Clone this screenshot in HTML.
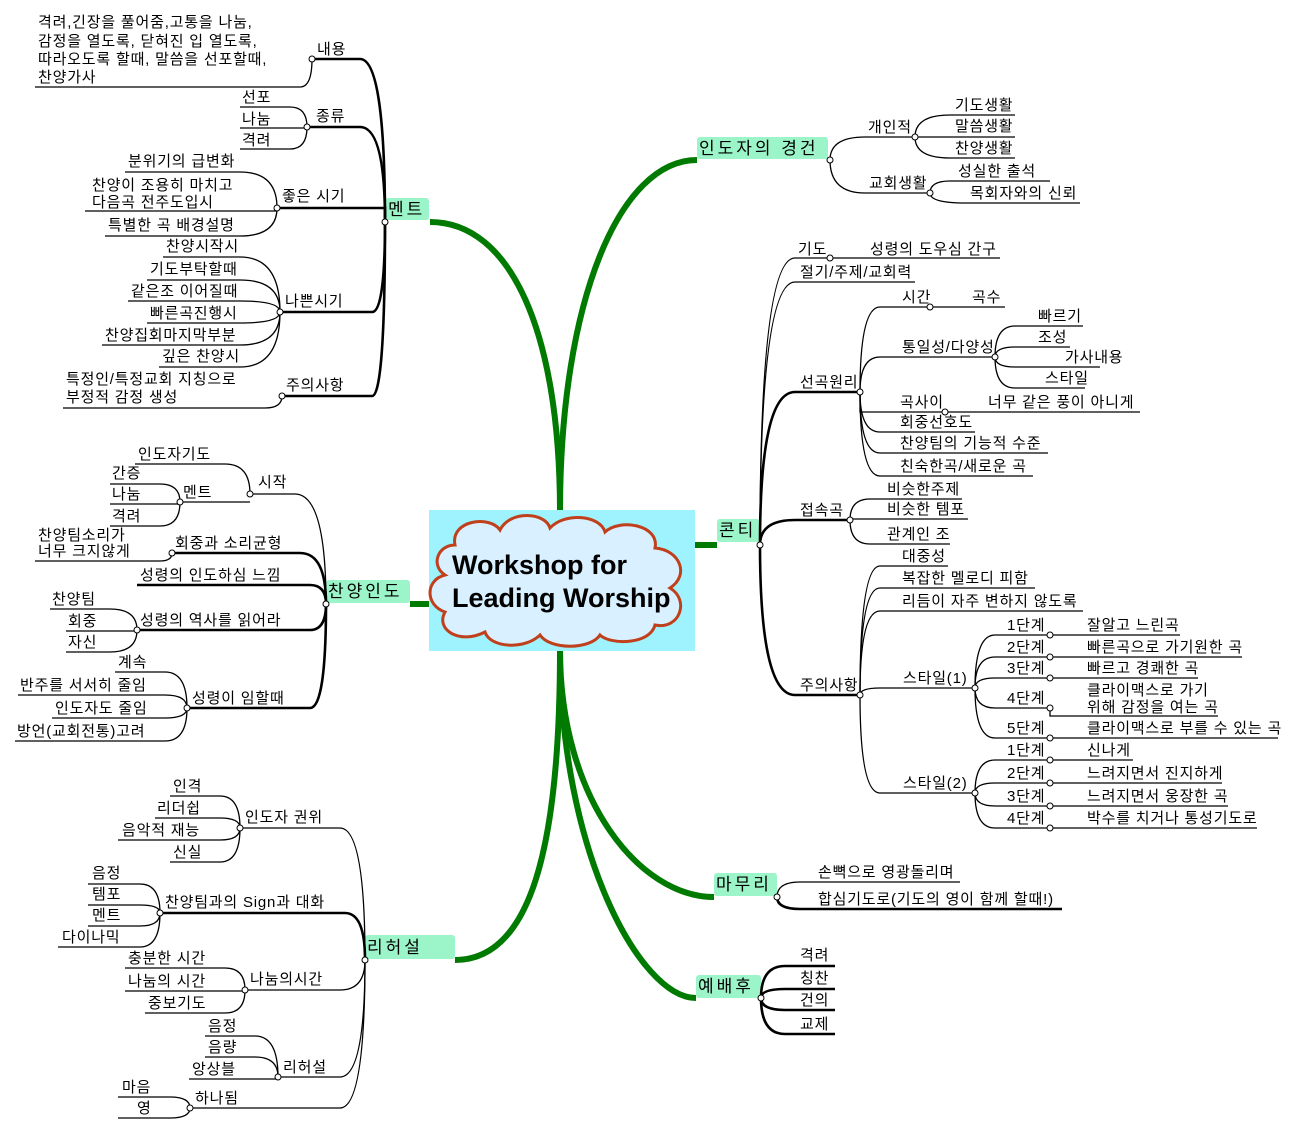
<!DOCTYPE html>
<html><head><meta charset="utf-8"><style>
html,body{margin:0;padding:0;background:#fff;}
svg text{font-family:"Liberation Sans","Noto Sans CJK KR","NanumGothic",sans-serif;font-size:15px;letter-spacing:0.8px;fill:#000;}
.l{fill:none;stroke:#000;stroke-width:1.3;}
.k{fill:none;stroke:#000;stroke-width:2.6;}
.g{fill:none;stroke:#007a00;stroke-width:6;}
.lb{fill:#9cf5c8;}
svg text.tl{font-size:17px;letter-spacing:3px;}
</style></head><body>
<svg width="1300" height="1131" viewBox="0 0 1300 1131" xmlns="http://www.w3.org/2000/svg">
<path class="g" d="M560,512 C560,330 510,222 430,222"/>
<path class="g" d="M429,604 H410"/>
<path class="g" d="M560,650 C560,850 530,960 455,960"/>
<path class="g" d="M560,512 C560,300 620,160 697,160"/>
<path class="g" d="M695,545 H717"/>
<path class="g" d="M560,650 C560,800 640,897 714,897"/>
<path class="g" d="M560,650 C560,850 640,998 696,998"/>

<rect x="429" y="510" width="266" height="141" fill="#9ff3ff"/>
<path d="M455,545 C450,520 490,515 500,530 C510,510 545,512 550,528 C565,512 600,515 605,532 C620,518 660,525 655,548 C680,550 690,575 670,588 C690,600 680,630 655,625 C650,645 610,645 600,635 C590,650 550,650 540,635 C525,650 490,648 485,632 C460,645 435,630 445,612 C425,605 425,580 445,575 C430,565 438,545 455,545 Z" fill="#d8f0ff" stroke="#c0401c" stroke-width="3"/>
<text x="452" y="574" style="font-size:27px;font-weight:bold;letter-spacing:0">Workshop for</text>
<text x="452" y="607" style="font-size:27px;font-weight:bold;letter-spacing:0">Leading Worship</text>

<rect class="lb" x="385" y="198" width="44" height="22" rx="3"/><text class="tl" x="388" y="215">멘트</text>
<rect class="lb" x="326" y="580" width="84" height="23" rx="3"/><text class="tl" x="328" y="597">찬양인도</text>
<rect class="lb" x="365" y="935" width="90" height="24" rx="3"/><text class="tl" x="367" y="953">리허설</text>
<rect class="lb" x="697" y="137" width="131" height="22" rx="3"/><text class="tl" x="699" y="154">인도자의 경건</text>
<rect class="lb" x="717" y="519" width="43" height="23" rx="3"/><text class="tl" x="719" y="536">콘티</text>
<rect class="lb" x="714" y="873" width="63" height="23" rx="3"/><text class="tl" x="716" y="890">마무리</text>
<rect class="lb" x="696" y="975" width="65" height="23" rx="3"/><text class="tl" x="698" y="992">예배후</text>

<path class="k" d="M310,59 H360 Q385,59 385,222"/>
<text x="317" y="54">내용</text>
<path class="l" d="M35,87 H300 Q312,87 312,59"/>
<text x="38" y="27">격려,긴장을 풀어줌,고통을 나눔,</text>
<text x="38" y="46">감정을 열도록, 닫혀진 입 열도록,</text>
<text x="38" y="64">따라오도록 할때, 말씀을 선포할때,</text>
<text x="38" y="82">찬양가사</text>
<path class="k" d="M305,127 H360 Q385,127 385,222"/>
<text x="316" y="121">종류</text>
<path class="l" d="M240,107 H290 Q307,107 307,127"/><text x="242" y="102">선포</text>
<path class="l" d="M240,128 H307"/><text x="242" y="124">나눔</text>
<path class="l" d="M240,149 H290 Q307,149 307,127"/><text x="242" y="145">격려</text>
<path class="k" d="M275,208 H385 Q385,208 385,222"/>
<text x="282" y="201">좋은 시기</text>
<path class="l" d="M125,172 H240 Q277,172 277,208"/><text x="128" y="166">분위기의 급변화</text>
<path class="l" d="M85,211 H277"/><text x="92" y="190">찬양이 조용히 마치고</text><text x="92" y="207">다음곡 전주도입시</text>
<path class="l" d="M105,236 H240 Q277,236 277,208"/><text x="108" y="230">특별한 곡 배경설명</text>
<path class="k" d="M278,312 H372 Q385,312 385,222"/>
<text x="285" y="306">나쁜시기</text>
<path class="l" d="M163,257 H240 Q280,257 280,312"/><text x="166" y="251">찬양시작시</text>
<path class="l" d="M147,280 H240 Q280,280 280,312"/><text x="150" y="274">기도부탁할때</text>
<path class="l" d="M128,301 H240 Q280,301 280,312"/><text x="131" y="296">같은조 이어질때</text>
<path class="l" d="M147,323 H240 Q280,323 280,312"/><text x="150" y="318">빠른곡진행시</text>
<path class="l" d="M102,345 H240 Q280,345 280,312"/><text x="105" y="340">찬양집회마지막부분</text>
<path class="l" d="M159,367 H240 Q280,367 280,312"/><text x="162" y="361">깊은 찬양시</text>
<path class="k" d="M280,396 H372 Q385,396 385,222"/>
<text x="286" y="390">주의사항</text>
<path class="l" d="M63,408 H265 Q282,408 282,396"/><text x="66" y="384">특정인/특정교회 지칭으로</text><text x="66" y="402">부정적 감정 생성</text>

<path class="l" d="M250,494 H295 Q326,494 326,604"/><text x="258" y="487">시작</text>
<path class="l" d="M135,464 H225 Q250,464 250,494"/><text x="138" y="459">인도자기도</text>
<path class="l" d="M180,502 H250"/><text x="183" y="497">멘트</text>
<path class="l" d="M110,484 H160 Q180,484 180,502"/><text x="112" y="478">간증</text>
<path class="l" d="M110,504 H180"/><text x="112" y="499">나눔</text>
<path class="l" d="M110,526 H160 Q180,526 180,502"/><text x="112" y="521">격려</text>
<path class="k" d="M170,553 H300 Q326,553 326,604"/><text x="175" y="548">회중과 소리균형</text>
<path class="l" d="M35,561 H160 Q172,561 172,553"/><text x="38" y="540">찬양팀소리가</text><text x="38" y="556">너무 크지않게</text>
<path class="k" d="M137,585 H310 Q326,585 326,604"/><text x="140" y="580">성령의 인도하심 느낌</text>
<path class="k" d="M137,630 H310 Q326,630 326,604"/><text x="140" y="625">성령의 역사를 읽어라</text>
<path class="l" d="M50,609 H110 Q137,609 137,630"/><text x="52" y="604">찬양팀</text>
<path class="l" d="M66,631 H137"/><text x="68" y="626">회중</text>
<path class="l" d="M66,652 H110 Q137,652 137,630"/><text x="68" y="647">자신</text>
<path class="k" d="M187,708 H310 Q326,708 326,604"/><text x="192" y="703">성령이 임할때</text>
<path class="l" d="M115,672 H165 Q187,672 187,708"/><text x="118" y="667">계속</text>
<path class="l" d="M18,695 H165 Q187,695 187,708"/><text x="20" y="690">반주를 서서히 줄임</text>
<path class="l" d="M52,718 H165 Q187,718 187,708"/><text x="55" y="713">인도자도 줄임</text>
<path class="l" d="M15,741 H165 Q187,741 187,708"/><text x="17" y="736">방언(교회전통)고려</text>

<path class="l" d="M240,828 H340 Q365,828 365,960"/><text x="245" y="822">인도자 권위</text>
<path class="l" d="M170,796 H220 Q240,796 240,828"/><text x="173" y="791">인격</text>
<path class="l" d="M155,818 H220 Q240,818 240,828"/><text x="157" y="813">리더쉽</text>
<path class="l" d="M118,840 H220 Q240,840 240,828"/><text x="122" y="835">음악적 재능</text>
<path class="l" d="M170,862 H220 Q240,862 240,828"/><text x="173" y="857">신실</text>
<path class="k" d="M160,913 H345 Q365,913 365,960"/><text x="165" y="907">찬양팀과의 Sign과 대화</text>
<path class="l" d="M88,884 H140 Q160,884 160,913"/><text x="92" y="878">음정</text>
<path class="l" d="M88,905 H140 Q160,905 160,913"/><text x="92" y="899">템포</text>
<path class="l" d="M88,926 H140 Q160,926 160,913"/><text x="92" y="920">멘트</text>
<path class="l" d="M58,947 H140 Q160,947 160,913"/><text x="62" y="942">다이나믹</text>
<path class="l" d="M245,990 H340 Q365,990 365,960"/><text x="250" y="984">나눔의시간</text>
<path class="l" d="M125,968 H225 Q245,968 245,990"/><text x="128" y="963">충분한 시간</text>
<path class="l" d="M125,991 H245"/><text x="128" y="986">나눔의 시간</text>
<path class="l" d="M145,1013 H225 Q245,1013 245,990"/><text x="148" y="1008">중보기도</text>
<path class="l" d="M278,1077 H340 Q365,1077 365,960"/><text x="283" y="1072">리허설</text>
<path class="l" d="M205,1036 H255 Q278,1036 278,1077"/><text x="208" y="1031">음정</text>
<path class="l" d="M205,1057 H255 Q278,1057 278,1077"/><text x="208" y="1052">음량</text>
<path class="l" d="M189,1079 H278"/><text x="192" y="1074">앙상블</text>
<path class="l" d="M190,1108 H340 Q365,1108 365,960"/><text x="195" y="1103">하나됨</text>
<path class="l" d="M118,1097 H170 Q190,1097 190,1108"/><text x="122" y="1092">마음</text>
<path class="l" d="M118,1118 H170 Q190,1118 190,1108"/><text x="137" y="1113">영</text>

<path class="l" d="M915,137 H865 Q830,137 830,160"/><text x="868" y="132">개인적</text>
<path class="l" d="M1015,115 H950 Q915,115 915,137"/><text x="955" y="110">기도생활</text>
<path class="l" d="M1015,137 H915"/><text x="955" y="131">말씀생활</text>
<path class="l" d="M1015,158 H950 Q915,158 915,137"/><text x="955" y="153">찬양생활</text>
<path class="l" d="M930,193 H865 Q830,193 830,160"/><text x="869" y="188">교회생활</text>
<path class="l" d="M1050,181 H950 Q930,181 930,193"/><text x="958" y="176">성실한 출석</text>
<path class="l" d="M1080,203 H965 Q930,203 930,193"/><text x="970" y="198">목회자와의 신뢰</text>

<path class="l" d="M1000,258 H795 Q760,258 760,545"/><text x="798" y="254">기도</text><text x="870" y="254">성령의 도우심 간구</text>
<path class="l" d="M915,282 H795 Q760,282 760,545"/><text x="800" y="277">절기/주제/교회력</text>
<path class="k" d="M860,392 H795 Q760,392 760,545"/><text x="800" y="387">선곡원리</text>
<path class="l" d="M1005,307 H880 Q860,307 860,392"/><text x="902" y="302">시간</text><text x="972" y="302">곡수</text>
<path class="l" d="M995,357 H880 Q860,357 860,392"/><text x="902" y="352">통일성/다양성</text>
<path class="l" d="M1083,326 H1015 Q995,326 995,357"/><text x="1038" y="321">빠르기</text>
<path class="l" d="M1070,347 H1015 Q995,347 995,357"/><text x="1038" y="342">조성</text>
<path class="l" d="M1100,367 H1015 Q995,367 995,357"/><text x="1065" y="362">가사내용</text>
<path class="l" d="M1085,388 H1015 Q995,388 995,357"/><text x="1045" y="383">스타일</text>
<path class="l" d="M1140,412 H860 Q860,412 860,392"/><text x="900" y="407">곡사이</text><text x="988" y="407">너무 같은 풍이 아니게</text>
<path class="l" d="M975,432 H880 Q860,432 860,392"/><text x="900" y="427">회중선호도</text>
<path class="l" d="M1048,453 H880 Q860,453 860,392"/><text x="900" y="448">찬양팀의 기능적 수준</text>
<path class="l" d="M1033,476 H880 Q860,476 860,392"/><text x="900" y="471">친숙한곡/새로운 곡</text>
<path class="k" d="M850,520 H795 Q760,520 760,545"/><text x="800" y="515">접속곡</text>
<path class="l" d="M962,499 H870 Q850,499 850,520"/><text x="887" y="494">비슷한주제</text>
<path class="l" d="M968,519 H850"/><text x="887" y="514">비슷한 템포</text>
<path class="l" d="M950,544 H870 Q850,544 850,520"/><text x="887" y="539">관계인 조</text>
<path class="k" d="M860,695 H795 Q760,695 760,545"/><text x="800" y="690">주의사항</text>
<path class="l" d="M948,566 H880 Q860,566 860,695"/><text x="902" y="561">대중성</text>
<path class="l" d="M1035,588 H880 Q860,588 860,695"/><text x="902" y="583">복잡한 멜로디 피함</text>
<path class="l" d="M1083,611 H880 Q860,611 860,695"/><text x="902" y="606">리듬이 자주 변하지 않도록</text>
<path class="l" d="M975,688 H880 Q860,688 860,695"/><text x="903" y="683">스타일(1)</text>
<path class="l" d="M1180,635 H995 Q975,635 975,688"/><text x="1007" y="630">1단계</text><text x="1087" y="630">잘알고 느린곡</text>
<path class="l" d="M1242,657 H995 Q975,657 975,688"/><text x="1007" y="652">2단계</text><text x="1087" y="652">빠른곡으로 가기원한 곡</text>
<path class="l" d="M1198,678 H995 Q975,678 975,688"/><text x="1007" y="673">3단계</text><text x="1087" y="673">빠르고 경쾌한 곡</text>
<path class="l" d="M1050,708 H995 Q975,708 975,688"/><text x="1007" y="703">4단계</text>
<path class="l" d="M1218,716 H1050 V708"/><text x="1087" y="695">클라이맥스로 가기</text><text x="1087" y="712">위해 감정을 여는 곡</text>
<path class="l" d="M1278,738 H995 Q975,738 975,688"/><text x="1007" y="733">5단계</text><text x="1087" y="733">클라이맥스로 부를 수 있는 곡</text>
<path class="l" d="M975,793 H880 Q860,793 860,695"/><text x="903" y="788">스타일(2)</text>
<path class="l" d="M1133,760 H995 Q975,760 975,793"/><text x="1007" y="755">1단계</text><text x="1087" y="755">신나게</text>
<path class="l" d="M1222,783 H995 Q975,783 975,793"/><text x="1007" y="778">2단계</text><text x="1087" y="778">느려지면서 진지하게</text>
<path class="l" d="M1228,806 H995 Q975,806 975,793"/><text x="1007" y="801">3단계</text><text x="1087" y="801">느려지면서 웅장한 곡</text>
<path class="l" d="M1257,828 H995 Q975,828 975,793"/><text x="1007" y="823">4단계</text><text x="1087" y="823">박수를 치거나 통성기도로</text>

<path class="l" d="M960,882 H800 Q777,882 777,897"/><text x="818" y="877">손뼉으로 영광돌리며</text>
<path class="k" d="M1062,909 H800 Q777,909 777,897"/><text x="818" y="904">합심기도로(기도의 영이 함께 할때!)</text>

<path class="k" d="M835,966 H785 Q761,966 761,998"/><text x="800" y="960">격려</text>
<path class="k" d="M835,989 H785 Q761,989 761,998"/><text x="800" y="983">칭찬</text>
<path class="k" d="M835,1010 H785 Q761,1010 761,998"/><text x="800" y="1005">건의</text>
<path class="k" d="M835,1034 H785 Q761,1034 761,998"/><text x="800" y="1029">교제</text>

<g fill="#fff" stroke="#000" stroke-width="1">
<circle cx="385" cy="222" r="3"/><circle cx="312" cy="59" r="3"/><circle cx="307" cy="127" r="3"/><circle cx="277" cy="208" r="3"/><circle cx="280" cy="312" r="3"/><circle cx="282" cy="396" r="3"/>
<circle cx="326" cy="604" r="3"/><circle cx="250" cy="494" r="3"/><circle cx="180" cy="502" r="3"/><circle cx="172" cy="553" r="3"/><circle cx="137" cy="630" r="3"/><circle cx="187" cy="708" r="3"/>
<circle cx="365" cy="960" r="3"/><circle cx="240" cy="828" r="3"/><circle cx="160" cy="913" r="3"/><circle cx="245" cy="990" r="3"/><circle cx="278" cy="1077" r="3"/><circle cx="190" cy="1108" r="3"/>
<circle cx="830" cy="160" r="3"/><circle cx="915" cy="137" r="3"/><circle cx="930" cy="193" r="3"/>
<circle cx="760" cy="545" r="3"/><circle cx="830" cy="258" r="3"/><circle cx="860" cy="392" r="3"/><circle cx="930" cy="307" r="3"/><circle cx="995" cy="357" r="3"/><circle cx="945" cy="412" r="3"/><circle cx="850" cy="520" r="3"/><circle cx="860" cy="695" r="3"/><circle cx="975" cy="688" r="3"/><circle cx="975" cy="793" r="3"/>
<circle cx="1050" cy="635" r="3"/><circle cx="1050" cy="657" r="3"/><circle cx="1050" cy="678" r="3"/><circle cx="1050" cy="708" r="3"/><circle cx="1050" cy="738" r="3"/><circle cx="1050" cy="760" r="3"/><circle cx="1050" cy="783" r="3"/><circle cx="1050" cy="806" r="3"/><circle cx="1050" cy="828" r="3"/>
<circle cx="777" cy="897" r="3"/><circle cx="761" cy="998" r="3"/>
</g>
</svg>
</body></html>
